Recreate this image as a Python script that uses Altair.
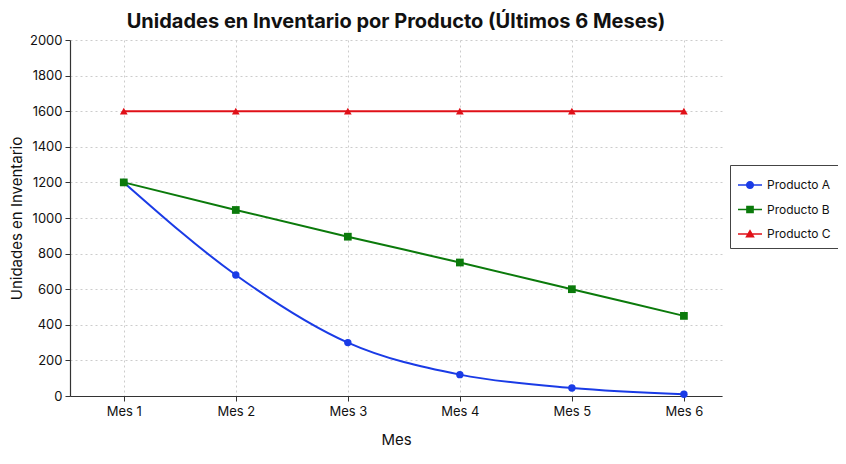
import altair as alt
import pandas as pd

meses = [1, 2, 3, 4, 5, 6]
producto_a = [1200, 680, 300, 120, 45, 10]
producto_b = [1200, 1045, 895, 750, 600, 450]
producto_c = [1600, 1600, 1600, 1600, 1600, 1600]

series = ['Producto A', 'Producto B', 'Producto C']
colores = ['#1a3be6', '#0b7a0b', '#e01018']

df = pd.DataFrame({
    'mes': meses * 3,
    'unidades': producto_a + producto_b + producto_c,
    'producto': [s for s in series for _ in meses],
})

FONT = 'Inter'

# legend symbols: a short line with the marker on top
legend_paths = [
    'M-1,-0.06H1V0.06H-1Z M0.34,0 A0.34,0.34 0 1,1 -0.34,0 A0.34,0.34 0 1,1 0.34,0Z',
    'M-1,-0.06H1V0.06H-1Z M-0.32,-0.32H0.32V0.32H-0.32Z',
    'M-1,-0.06H1V0.06H-1Z M0,-0.4L0.4,0.3L-0.4,0.3Z',
]

x = alt.X('mes:Q', title='Mes',
          scale=alt.Scale(domain=[0.52, 6.34], nice=False, zero=False),
          axis=alt.Axis(values=meses, labelExpr="'Mes ' + datum.value",
                        titlePadding=14, labelPadding=4))
y = alt.Y('unidades:Q', title='Unidades en Inventario',
          scale=alt.Scale(domain=[0, 2000], nice=False),
          axis=alt.Axis(values=list(range(0, 2001, 200)), format='d',
                        titlePadding=5, labelPadding=3))
color = alt.Color('producto:N', scale=alt.Scale(domain=series, range=colores),
                  legend=None)

base = alt.Chart(df).encode(x=x, y=y, color=color)

# empty layer that only carries the legend (first, so its legend settings win)
legend_layer = base.transform_filter('false').mark_point(filled=True, opacity=1).encode(
    color=alt.Color('producto:N', scale=alt.Scale(domain=series, range=colores),
                    legend=alt.Legend(title=None, orient='none', legendX=660, legendY=125,
                                      symbolSize=576, strokeColor='#444',
                                      padding=8, rowPadding=6.5, labelFontSize=12,
                                      labelFont=FONT, labelColor='#111',
                                      symbolOpacity=1, symbolStrokeWidth=0,
                                      labelOffset=5)),
    shape=alt.Shape('producto:N', scale=alt.Scale(domain=series, range=legend_paths)),
)

lines = base.mark_line(strokeWidth=2, interpolate='monotone')

shapes = ['circle', 'square', 'triangle-up']
sizes = [55, 60, 60]
points = [
    base.transform_filter(alt.datum.producto == s).mark_point(
        filled=True, opacity=1, shape=sh, size=sz)
    for s, sh, sz in zip(series, shapes, sizes)
]

chart = alt.layer(legend_layer, lines, *points).properties(
    width=652, height=356,
    title=alt.Title('Unidades en Inventario por Producto (Últimos 6 Meses)',
                    font=FONT, fontSize=20, fontWeight='bold', color='#111',
                    anchor='middle', offset=2),
    padding={'left': 62, 'top': 32, 'right': 116, 'bottom': 60},
    autosize=alt.AutoSizeParams(type='none'),
).configure_view(stroke=None).configure_axis(
    labelFont=FONT, titleFont=FONT, labelFontSize=13, titleFontSize=15,
    titleFontWeight='normal', labelColor='#111', titleColor='#111',
    domainColor='#333', tickColor='#333', tickSize=5, domainWidth=1.2,
    gridColor='#cccccc', gridDash=[2, 3], gridWidth=1,
)

chart.save('out.html', embed_options={'renderer': 'svg', 'actions': False})
